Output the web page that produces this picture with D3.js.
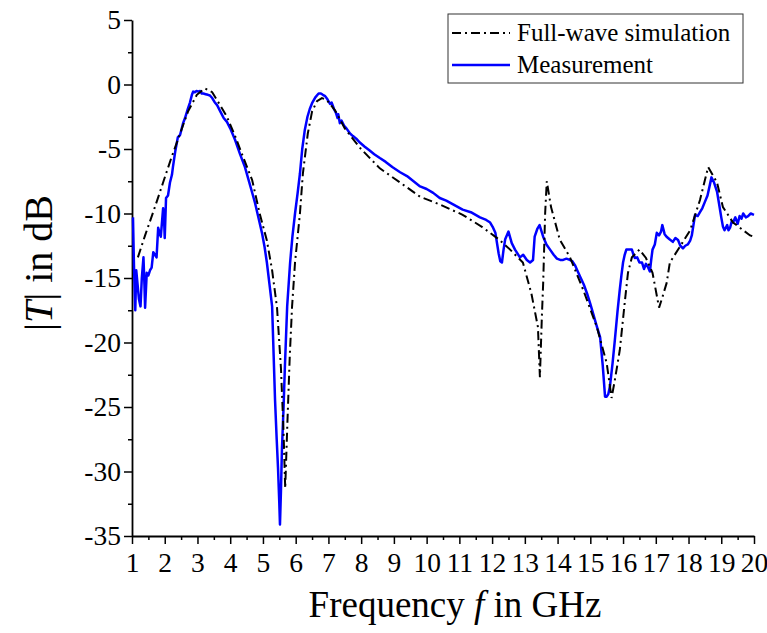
<!DOCTYPE html>
<html>
<head>
<meta charset="utf-8">
<script src="https://cdn.jsdelivr.net/npm/d3@7"></script>
<style>
  body { margin: 0; background: #fff; }
  svg text { font-family: "Liberation Serif", Tinos, "DejaVu Serif", serif; }
</style>
</head>
<body>
<div id="chart"></div>
<script>
// Full-wave simulation (black dash-dot)
const simFreq = [1.18, 1.4, 1.7, 1.95, 2.2, 2.47, 2.71, 2.98, 3.23, 3.45, 3.69, 3.9, 4.15, 4.36, 4.67, 4.9, 5.12, 5.28, 5.43, 5.55, 5.63, 5.68, 5.75, 5.82, 5.89, 5.98, 6.13, 6.22, 6.37, 6.5, 6.65, 6.8, 6.95, 7.2, 7.5, 7.96, 8.57, 9.19, 9.8, 10.4, 11.1, 11.7, 12.2, 12.55, 12.94, 13.2, 13.4, 13.46, 13.52, 13.56, 13.62, 13.67, 13.8, 14.07, 14.38, 14.78, 15.2, 15.5, 15.65, 15.75, 15.9, 16.06, 16.15, 16.27, 16.5, 16.7, 16.9, 17.1, 17.2, 17.33, 17.43, 17.73, 18.05, 18.35, 18.6, 18.87, 19.05, 19.36, 19.88, 20];
const simT = [-13.4, -11.7, -9.5, -7.6, -5.7, -3.8, -2.1, -0.8, -0.3, -0.6, -1.6, -2.5, -4.0, -5.4, -7.4, -10, -12.1, -14.4, -17.3, -22, -27, -31.3, -26, -21, -17.2, -13.8, -10, -6.9, -3.8, -2.1, -1.3, -1.05, -1.2, -2.0, -3.4, -4.9, -6.5, -7.6, -8.7, -9.3, -10.1, -11.05, -12.0, -12.8, -13.8, -16.2, -18.8, -22.7, -18, -15.4, -10, -7.5, -9.5, -12.05, -13.4, -15.9, -18.8, -21.6, -24.3, -22.9, -20.6, -16.7, -14.6, -13.4, -12.8, -13.45, -14.6, -17.3, -16.5, -15.4, -13.8, -12.6, -11.3, -8.95, -6.4, -7.6, -9.5, -10.7, -11.7, -11.8];

// Measurement (blue)
const measFreq = [1.03, 1.06, 1.1, 1.13, 1.17, 1.21, 1.26, 1.3, 1.35, 1.38, 1.4, 1.45, 1.5, 1.55, 1.6, 1.65, 1.7, 1.75, 1.8, 1.84, 1.88, 1.95, 1.98, 2.0, 2.04, 2.1, 2.16, 2.22, 2.25, 2.32, 2.4, 2.47, 2.56, 2.62, 2.71, 2.77, 2.83, 2.87, 2.92, 2.97, 3.03, 3.08, 3.13, 3.18, 3.25, 3.32, 3.38, 3.45, 3.52, 3.6, 3.7, 3.8, 3.9, 4.0, 4.15, 4.3, 4.45, 4.55, 4.65, 4.76, 4.87, 4.97, 5.05, 5.12, 5.2, 5.28, 5.37, 5.42, 5.46, 5.5, 5.52, 5.55, 5.58, 5.63, 5.67, 5.74, 5.83, 5.9, 5.98, 6.06, 6.13, 6.2, 6.28, 6.36, 6.43, 6.5, 6.6, 6.7, 6.77, 6.83, 6.9, 6.97, 7.05, 7.1, 7.17, 7.23, 7.28, 7.3, 7.35, 7.4, 7.48, 7.55, 7.66, 7.75, 7.85, 7.96, 8.1, 8.25, 8.4, 8.57, 8.75, 8.95, 9.19, 9.4, 9.6, 9.8, 10.0, 10.2, 10.4, 10.6, 10.85, 11.1, 11.35, 11.63, 11.82, 11.94, 12.03, 12.1, 12.2, 12.25, 12.3, 12.35, 12.4, 12.5, 12.6, 12.7, 12.85, 12.95, 13.06, 13.16, 13.25, 13.3, 13.38, 13.45, 13.56, 13.66, 13.77, 13.88, 13.98, 14.08, 14.17, 14.27, 14.37, 14.45, 14.53, 14.6, 14.69, 14.8, 14.9, 15.0, 15.08, 15.18, 15.3, 15.38, 15.45, 15.5, 15.55, 15.6, 15.68, 15.75, 15.83, 15.9, 15.95, 16.0, 16.05, 16.1, 16.2, 16.27, 16.32, 16.36, 16.43, 16.5, 16.58, 16.64, 16.7, 16.77, 16.82, 16.86, 16.9, 16.97, 17.03, 17.1, 17.16, 17.2, 17.27, 17.33, 17.42, 17.52, 17.6, 17.68, 17.75, 17.83, 17.9, 17.98, 18.05, 18.1, 18.15, 18.2, 18.28, 18.35, 18.42, 18.5, 18.58, 18.65, 18.7, 18.78, 18.87, 18.93, 19.0, 19.05, 19.1, 19.18, 19.22, 19.27, 19.32, 19.36, 19.43, 19.5, 19.56, 19.62, 19.67, 19.75, 19.82, 19.9, 20.0];
const measT = [-10.3, -14, -17.5, -14.4, -15.5, -16.6, -17.2, -15, -13.4, -15.5, -17.3, -14.6, -14.8, -14.4, -14.2, -13.0, -13.2, -13.4, -11.1, -11.5, -11.8, -9.6, -10.5, -11.9, -8.8, -8.6, -7.6, -7.0, -6.4, -5.2, -4.1, -3.9, -3.0, -2.6, -1.85, -1.4, -0.8, -0.55, -0.6, -0.5, -0.55, -0.5, -0.7, -0.7, -0.75, -0.8, -0.85, -1.05, -1.35, -1.6, -2.1, -2.6, -2.9, -3.4, -4.3, -5.4, -6.4, -7.3, -8.2, -9.2, -10.4, -11.5, -12.6, -13.8, -15.5, -17.2, -24.5, -27.5, -29.7, -32.5, -34.1, -31.5, -28.3, -25, -21.9, -17.2, -13.8, -11.8, -10, -8.4, -6.9, -5.0, -3.5, -2.5, -1.9, -1.45, -1.0, -0.7, -0.7, -0.8, -0.9, -1.15, -1.5, -1.4, -1.9, -2.2, -2.6, -2.3, -3.0, -2.8, -3.2, -3.4, -3.8, -4.0, -4.2, -4.5, -4.8, -5.1, -5.4, -5.7, -6.0, -6.4, -6.8, -7.1, -7.5, -7.9, -8.1, -8.4, -8.8, -9.0, -9.35, -9.7, -9.9, -10.3, -10.5, -10.7, -11.1, -11.5, -13.1, -13.7, -13.8, -12.8, -12.0, -11.4, -12.3, -12.8, -13.4, -13.2, -13.6, -13.8, -13.6, -11.8, -11.2, -10.9, -11.8, -12.4, -12.8, -13.2, -13.5, -13.6, -13.6, -13.5, -13.6, -13.7, -14.0, -14.4, -14.9, -15.5, -16.2, -17.0, -17.7, -18.6, -19.6, -21.8, -24.2, -24.2, -24.0, -23.4, -21.6, -19.8, -17.6, -15.9, -14.8, -13.8, -13.2, -12.8, -12.8, -12.8, -13.2, -13.45, -13.4, -13.8, -13.8, -14.3, -13.9, -14.2, -14.5, -13.6, -12.8, -12.4, -11.5, -11.7, -11.4, -10.9, -11.6, -11.8, -12.0, -12.2, -11.9, -12.05, -12.5, -12.7, -12.5, -12.4, -12.1, -11.7, -10.9, -10.1, -10.2, -9.9, -9.6, -9.1, -8.6, -7.8, -7.2, -7.6, -8.3, -9.2, -10.3, -11.0, -11.3, -10.9, -11.3, -11.1, -10.6, -10.7, -10.3, -10.8, -10.2, -10.4, -10.0, -10.3, -10.2, -10.0, -10.1];

const xTicks = d3.range(1, 21);
const yTicks = [5, 0, -5, -10, -15, -20, -25, -30, -35];
const legendLabels = ["Full-wave simulation", "Measurement"];

const serif = '"Liberation Serif", Tinos, "DejaVu Serif", serif';

// Dimensions
const dims = { width: 767, height: 633, left: 132, right: 13, top: 20, bottom: 97 };
dims.ctrWidth = dims.width - dims.left - dims.right;
dims.ctrHeight = dims.height - dims.top - dims.bottom;

const svg = d3.select("#chart")
  .append("svg")
  .attr("width", dims.width)
  .attr("height", dims.height)
  .style("font-family", serif);

const ctr = svg.append("g")
  .attr("transform", `translate(${dims.left}, ${dims.top})`);

// Scales
const xScale = d3.scaleLinear().domain([1, 20]).range([0, dims.ctrWidth]);
const yScale = d3.scaleLinear().domain([-35, 5]).range([dims.ctrHeight, 0]);

// Minor ticks
ctr.append("g")
  .attr("transform", `translate(0, ${dims.ctrHeight})`)
  .call(d3.axisBottom(xScale).tickValues(d3.range(1.5, 20, 1)).tickSize(4).tickFormat(""))
  .call(g => g.select(".domain").remove())
  .selectAll("line").attr("stroke-width", 1.5);

ctr.append("g")
  .call(d3.axisLeft(yScale).tickValues(d3.range(-32.5, 5, 5)).tickSize(4).tickFormat(""))
  .call(g => g.select(".domain").remove())
  .selectAll("line").attr("stroke-width", 1.5);

// Axes
const xAxisGroup = ctr.append("g")
  .attr("transform", `translate(0, ${dims.ctrHeight})`)
  .call(d3.axisBottom(xScale).tickValues(xTicks).tickSize(8).tickSizeOuter(0).tickPadding(8).tickFormat(d => d));

const yAxisGroup = ctr.append("g")
  .call(d3.axisLeft(yScale).tickValues(yTicks).tickSize(8).tickSizeOuter(0).tickPadding(3).tickFormat(d => d));

[xAxisGroup, yAxisGroup].forEach(g => {
  g.attr("font-family", null);
  g.select(".domain").attr("stroke-width", 1.8);
  g.selectAll(".tick line").attr("stroke-width", 1.5);
  g.selectAll(".tick text")
    .attr("font-size", 27.5)
    .style("font-family", serif)
    .attr("fill", "#000");
});

// Axis titles
const xTitle = svg.append("text")
  .attr("x", 455)
  .attr("y", 617)
  .attr("text-anchor", "middle")
  .attr("font-size", 37);
xTitle.append("tspan").text("Frequency ");
xTitle.append("tspan").attr("font-style", "italic").text("f");
xTitle.append("tspan").text(" in GHz");

const yTitle = svg.append("text")
  .attr("transform", `translate(52, 263) rotate(-90)`)
  .attr("text-anchor", "middle")
  .attr("font-size", 40);
yTitle.append("tspan").text("|");
yTitle.append("tspan").attr("font-style", "italic").text("T");
yTitle.append("tspan").text("| in dB");

// Lines
const simData = simFreq.map((f, i) => ({ f, t: simT[i] }));
const measData = measFreq.map((f, i) => ({ f, t: measT[i] }));

const lineGenerator = d3.line()
  .x(d => xScale(d.f))
  .y(d => yScale(d.t));

ctr.append("path")
  .datum(measData)
  .attr("d", lineGenerator)
  .attr("fill", "none")
  .attr("stroke", "#0000ff")
  .attr("stroke-width", 2.5)
  .attr("stroke-linejoin", "round");

ctr.append("path")
  .datum(simData)
  .attr("d", lineGenerator)
  .attr("fill", "none")
  .attr("stroke", "#000")
  .attr("stroke-width", 2)
  .attr("stroke-dasharray", "9,4,2,4");

// Legend
const legend = svg.append("g");
legend.append("rect")
  .attr("x", 448).attr("y", 14)
  .attr("width", 295).attr("height", 69)
  .attr("fill", "#fff")
  .attr("stroke", "#333")
  .attr("stroke-width", 1);

const styles = [
  { stroke: "#000", width: 2, dash: "9,4,2,4" },
  { stroke: "#0000ff", width: 2.5, dash: null }
];

legendLabels.forEach((label, i) => {
  const yRow = 33 + i * 32;
  legend.append("line")
    .attr("x1", 452).attr("x2", 510)
    .attr("y1", yRow).attr("y2", yRow)
    .attr("stroke", styles[i].stroke)
    .attr("stroke-width", styles[i].width)
    .attr("stroke-dasharray", styles[i].dash);
  legend.append("text")
    .attr("x", 517)
    .attr("y", yRow + 8)
    .attr("font-size", 25)
    .text(label);
});
</script>
</body>
</html>
